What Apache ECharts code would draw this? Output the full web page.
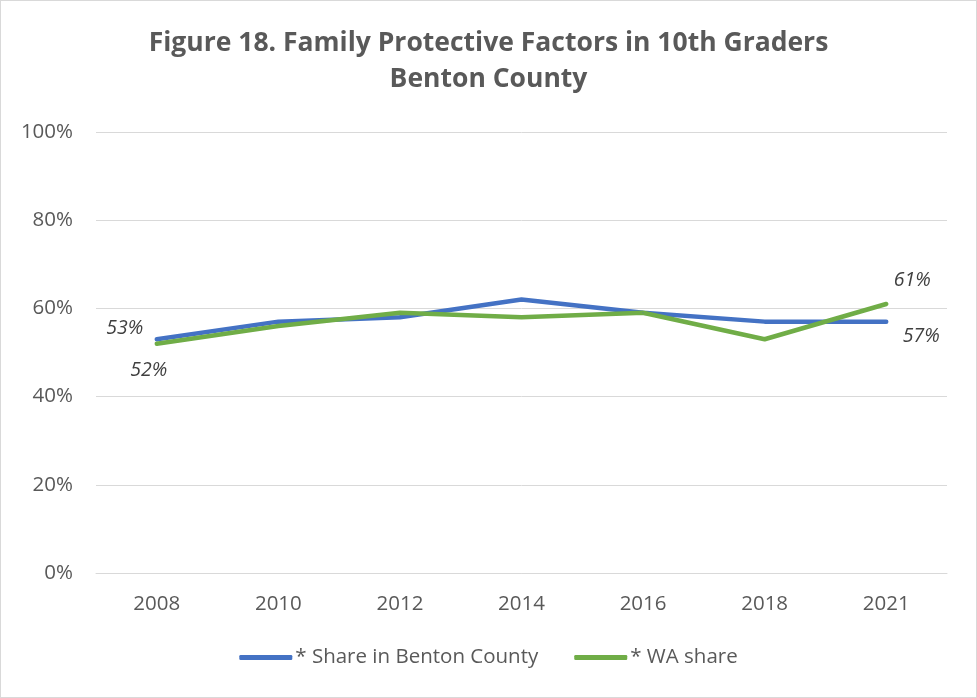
<!DOCTYPE html>
<html>
<head>
<meta charset="utf-8">
<script src="https://cdn.jsdelivr.net/npm/echarts@6/dist/echarts.min.js"></script>
<style>
html,body{margin:0;padding:0;background:#fff;}
#container{width:975px;height:696px;border:1px solid #d9d9d9;}
</style>
</head>
<body>
<div id="container"></div>
<script>
var years = ['2008', '2010', '2012', '2014', '2016', '2018', '2021'];
var bentonShare = [53, 57, 58, 62, 59, 57, 57];
var waShare = [52, 56, 59, 58, 59, 53, 61];
var yTicks = [0, 20, 40, 60, 80, 100];

var font = '"Open Sans", "Noto Sans", sans-serif';

// 只标首尾两个点
function endLabels(values, firstOffset, lastOffset) {
	return values.map(function(v, i) {
		if (i === 0) return { value: v, label: { show: true, offset: firstOffset } };
		if (i === values.length - 1) return { value: v, label: { show: true, offset: lastOffset } };
		return v;
	});
}

var labelStyle = {
	show: false,
	position: 'inside',
	formatter: '{c}%',
	fontFamily: font,
	fontStyle: 'italic',
	fontSize: 19.5,
	color: '#404040'
};

var dom = document.getElementById("container");
var myChart = echarts.init(dom);
var option = {
	animation: false,
	title: {
		text: 'Figure 18. Family Protective Factors in 10th Graders\nBenton County',
		left: 'center',
		top: 19,
		textStyle: {
			fontFamily: font,
			fontSize: 26.5,
			fontWeight: 'bold',
			color: '#595959',
			lineHeight: 36
		}
	},
	legend: {
		bottom: 24,
		left: 'center',
		icon: 'roundRect',
		itemWidth: 53,
		itemHeight: 5,
		itemGap: 36,
		textStyle: {
			fontFamily: font,
			fontSize: 20.5,
			color: '#595959',
			padding: [0, 0, 0, -2]
		},
		data: ['* Share in Benton County', '* WA share']
	},
	grid: {
		left: 95,
		right: 29,
		top: 131,
		bottom: 124
	},
	xAxis: {
		type: 'category',
		data: years,
		boundaryGap: true,
		axisLine: { lineStyle: { color: '#d9d9d9', width: 1 } },
		axisTick: { show: false },
		axisLabel: {
			fontFamily: font,
			fontSize: 20.5,
			color: '#595959',
			margin: 21
		}
	},
	yAxis: {
		type: 'value',
		min: yTicks[0],
		max: yTicks[yTicks.length - 1],
		interval: 20,
		axisLine: { show: false },
		axisTick: { show: false },
		splitLine: { lineStyle: { color: '#d9d9d9', width: 1 } },
		axisLabel: {
			fontFamily: font,
			fontSize: 20.5,
			color: '#595959',
			margin: 23,
			formatter: '{value}%'
		}
	},
	series: [
		{
			name: '* Share in Benton County',
			type: 'line',
			data: endLabels(bentonShare, [-32, -11], [35, 15]),
			symbol: 'circle',
			symbolSize: 1,
			showAllSymbol: true,
			lineStyle: { color: '#4472C4', width: 4.5, cap: 'round' },
			itemStyle: { color: '#4472C4' },
			label: labelStyle
		},
		{
			name: '* WA share',
			type: 'line',
			data: endLabels(waShare, [-8, 27], [26, -24]),
			symbol: 'circle',
			symbolSize: 1,
			showAllSymbol: true,
			lineStyle: { color: '#70AD47', width: 4.5, cap: 'round' },
			itemStyle: { color: '#70AD47' },
			label: labelStyle
		}
	]
};
myChart.setOption(option, true);
</script>
</body>
</html>
